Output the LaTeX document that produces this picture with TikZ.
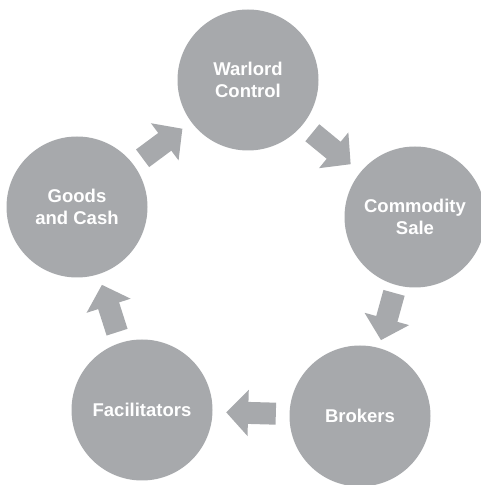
\documentclass[tikz,border=0pt]{standalone}
\usepackage{fontspec}
\setsansfont{Liberation Sans}
\usepackage{tikz}
\usetikzlibrary{arrows.meta}

\definecolor{stagegray}{RGB}{167,169,172}

\begin{document}
\begin{tikzpicture}[x=1pt,y=1pt,
  stage/.style={circle, fill=stagegray, minimum size=141pt, inner sep=0pt,
    text=white, align=center,
    font=\sffamily\bfseries\fontsize{18.5}{21.5}\selectfont},
  flow/.style={draw=stagegray, line width=22pt,
    -{Triangle[width=45pt,length=22pt]}, shorten <=#1, shorten >=#1}]

\useasboundingbox (0,0) rectangle (481,485);

% the five stages of the cycle
\node[stage] (warlord)   at (248,405) {Warlord\\Control};
\node[stage] (commodity) at (415,268) {Commodity\\Sale};
\node[stage] (brokers)   at (360,69)  {Brokers};
\node[stage] (facil)     at (142,75)  {Facilitators};
\node[stage] (goods)     at (77,278)  {Goods\\and Cash};

% block arrows between them
\draw[flow=11pt] (goods) -- (warlord);
\draw[flow=12.5pt] (warlord) -- (commodity);
\draw[flow=8pt] (commodity) -- (brokers);
\draw[flow=13.5pt] (brokers) -- (facil);
\draw[flow=11pt] (facil) -- (goods);

\end{tikzpicture}
\end{document}
